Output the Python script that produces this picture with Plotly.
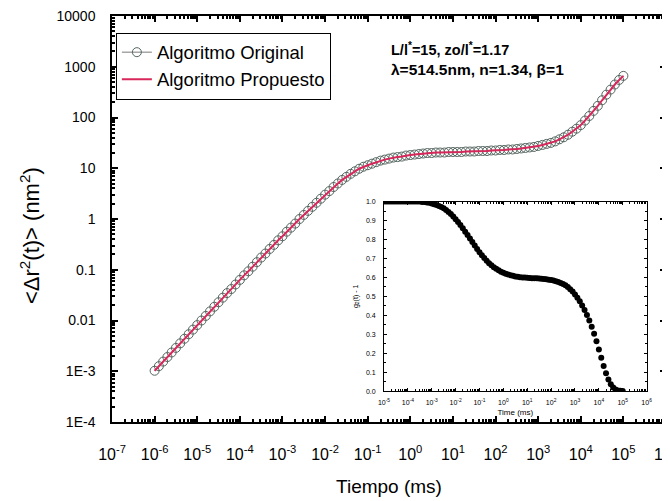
import plotly.graph_objects as go

# ---------------- data ----------------
log_time = [-6.0, -5.9, -5.8, -5.7, -5.6, -5.5, -5.4, -5.3, -5.2, -5.1,
            -5.0, -4.9, -4.8, -4.7, -4.6, -4.5, -4.4, -4.3, -4.2, -4.1,
            -4.0, -3.9, -3.8, -3.7, -3.6, -3.5, -3.4, -3.3, -3.2, -3.1,
            -3.0, -2.9, -2.8, -2.7, -2.6, -2.5, -2.4, -2.3, -2.2, -2.1,
            -2.0, -1.9, -1.8, -1.7, -1.6, -1.5, -1.4, -1.3, -1.2, -1.1,
            -1.0, -0.9, -0.8, -0.7, -0.6, -0.5, -0.4, -0.3, -0.2, -0.1,
            0.0, 0.1, 0.2, 0.3, 0.4, 0.5, 0.6, 0.7, 0.8, 0.9,
            1.0, 1.1, 1.2, 1.3, 1.4, 1.5, 1.6, 1.7, 1.8, 1.9,
            2.0, 2.1, 2.2, 2.3, 2.4, 2.5, 2.6, 2.7, 2.8, 2.9,
            3.0, 3.1, 3.2, 3.3, 3.4, 3.5, 3.6, 3.7, 3.8, 3.9,
            4.0, 4.1, 4.2, 4.3, 4.4, 4.5, 4.6, 4.7, 4.8, 4.9, 5.0]

log_msd = [-2.99, -2.90, -2.81, -2.72, -2.63, -2.54, -2.45, -2.36, -2.27, -2.18,
           -2.09, -2.00, -1.91, -1.82, -1.73, -1.64, -1.55, -1.46, -1.38, -1.29,
           -1.20, -1.11, -1.03, -0.94, -0.85, -0.76, -0.68, -0.59, -0.51, -0.42,
           -0.34, -0.25, -0.17, -0.09, 0.00, 0.08, 0.16, 0.24, 0.32, 0.40,
           0.48, 0.55, 0.63, 0.70, 0.77, 0.83, 0.89, 0.94, 0.99, 1.03,
           1.06, 1.09, 1.12, 1.15, 1.17, 1.19, 1.21, 1.22, 1.23, 1.25,
           1.26, 1.27, 1.28, 1.29, 1.30, 1.30, 1.31, 1.31, 1.31, 1.32,
           1.32, 1.32, 1.32, 1.33, 1.33, 1.33, 1.34, 1.34, 1.34, 1.35,
           1.35, 1.36, 1.36, 1.37, 1.37, 1.38, 1.39, 1.40, 1.41, 1.42,
           1.44, 1.46, 1.48, 1.50, 1.53, 1.57, 1.61, 1.66, 1.72, 1.78,
           1.85, 1.94, 2.03, 2.13, 2.23, 2.34, 2.45, 2.55, 2.65, 2.74, 2.82]

inset_log_time = [-5.0, -4.9, -4.8, -4.7, -4.6, -4.5, -4.4, -4.3, -4.2, -4.1,
                  -4.0, -3.9, -3.8, -3.7, -3.6, -3.5, -3.4, -3.3, -3.2, -3.1,
                  -3.0, -2.9, -2.8, -2.7, -2.6, -2.5, -2.4, -2.3, -2.2, -2.1,
                  -2.0, -1.9, -1.8, -1.7, -1.6, -1.5, -1.4, -1.3, -1.2, -1.1,
                  -1.0, -0.9, -0.8, -0.7, -0.6, -0.5, -0.4, -0.3, -0.2, -0.1,
                  0.0, 0.1, 0.2, 0.3, 0.4, 0.5, 0.6, 0.7, 0.8, 0.9,
                  1.0, 1.1, 1.2, 1.3, 1.4, 1.5, 1.6, 1.7, 1.8, 1.9,
                  2.0, 2.1, 2.2, 2.3, 2.4, 2.5, 2.6, 2.7, 2.8, 2.9,
                  3.0, 3.1, 3.2, 3.3, 3.4, 3.5, 3.6, 3.7, 3.8, 3.9,
                  4.0, 4.1, 4.2, 4.3, 4.4, 4.5, 4.6, 4.7, 4.8, 4.9, 5.0]

inset_g = [1.000, 1.000, 1.000, 1.000, 1.000, 1.000, 1.000, 1.000, 1.000, 1.000,
           1.000, 1.000, 1.000, 1.000, 1.000, 1.000, 0.998, 0.997, 0.995, 0.993,
           0.990, 0.986, 0.982, 0.977, 0.971, 0.964, 0.955, 0.945, 0.934, 0.921,
           0.907, 0.892, 0.876, 0.859, 0.841, 0.823, 0.805, 0.786, 0.768, 0.750,
           0.733, 0.717, 0.702, 0.688, 0.675, 0.664, 0.654, 0.645, 0.637, 0.630,
           0.624, 0.619, 0.615, 0.611, 0.608, 0.605, 0.603, 0.601, 0.600, 0.599,
           0.598, 0.597, 0.596, 0.596, 0.595, 0.594, 0.593, 0.592, 0.590, 0.588,
           0.586, 0.583, 0.580, 0.576, 0.571, 0.565, 0.558, 0.549, 0.538, 0.525,
           0.510, 0.493, 0.474, 0.452, 0.428, 0.402, 0.373, 0.340, 0.303, 0.263,
           0.220, 0.176, 0.133, 0.094, 0.061, 0.036, 0.019, 0.009, 0.004, 0.002, 0.001]

main_x_tick_exps = [-7, -6, -5, -4, -3, -2, -1, 0, 1, 2, 3, 4, 5, 6]
main_x_tick_text = ["10<sup>-7</sup>", "10<sup>-6</sup>", "10<sup>-5</sup>", "10<sup>-4</sup>",
                    "10<sup>-3</sup>", "10<sup>-2</sup>", "10<sup>-1</sup>", "10<sup>0</sup>",
                    "10<sup>1</sup>", "10<sup>2</sup>", "10<sup>3</sup>", "10<sup>4</sup>",
                    "10<sup>5</sup>", "10<sup>6</sup>"]
main_y_tick_exps = [-4, -3, -2, -1, 0, 1, 2, 3, 4]
main_y_tick_text = ["1E-4", "1E-3", "0.01", "0.1", "1", "10", "100", "1000", "10000"]
inset_x_tick_exps = [-5, -4, -3, -2, -1, 0, 1, 2, 3, 4, 5, 6]
inset_x_tick_text = ["10<sup>-5</sup>", "10<sup>-4</sup>", "10<sup>-3</sup>", "10<sup>-2</sup>",
                     "10<sup>-1</sup>", "10<sup>0</sup>", "10<sup>1</sup>", "10<sup>2</sup>",
                     "10<sup>3</sup>", "10<sup>4</sup>", "10<sup>5</sup>", "10<sup>6</sup>"]
inset_y_ticks = [0.0, 0.1, 0.2, 0.3, 0.4, 0.5, 0.6, 0.7, 0.8, 0.9, 1.0]

series_names = ["Algoritmo Original", "Algoritmo Propuesto"]
y_title = "&lt;Δr<sup>2</sup>(t)&gt; (nm<sup>2</sup>)"
# ---------------------------------------------------------------

time = [10 ** v for v in log_time]
msd = [10 ** v for v in log_msd]
inset_time = [10 ** v for v in inset_log_time]

def minor_logs(lo, hi):
    vals = []
    for d in range(lo, hi):
        for m in range(2, 10):
            vals.append(m * 10 ** d)
    return vals

FONT = "Arial, 'Liberation Sans', Helvetica, sans-serif"

fig = go.Figure()
fig.add_trace(go.Scatter(
    x=time, y=msd, mode="lines+markers", name=series_names[0],
    line=dict(color="#7a7a7a", width=1),
    marker=dict(symbol="circle-open", size=9, color="#55655f", line=dict(width=1)),
))
fig.add_trace(go.Scatter(
    x=time, y=msd, mode="lines", name=series_names[1],
    line=dict(color="#d8275a", width=2),
))
fig.add_trace(go.Scatter(
    x=inset_time, y=inset_g, mode="markers", showlegend=False,
    marker=dict(symbol="circle", size=6, color="black"),
    xaxis="x2", yaxis="y2",
))

axis_common = dict(showline=True, linecolor="black", mirror="ticks",
                   ticks="inside", tickcolor="black", showgrid=False, zeroline=False)

fig.update_layout(
    width=670, height=501,
    margin=dict(l=104, r=0, t=7, b=87),
    paper_bgcolor="white", plot_bgcolor="white",
    font=dict(family=FONT, color="black"),
    xaxis=dict(type="log", range=[-7, 6], domain=[0, 1],
               tickvals=[10 ** e for e in main_x_tick_exps], ticktext=main_x_tick_text,
               ticklen=6, linewidth=1.5, tickwidth=1.5,
               tickfont=dict(size=16), ticklabelstandoff=17, ticklabeloverflow="allow",
               minor=dict(tickvals=minor_logs(-7, 6), ticks="inside", ticklen=3, tickcolor="black"),
               title=dict(text="Tiempo (ms)", font=dict(size=19), standoff=18),
               **axis_common),
    yaxis=dict(type="log", range=[-4, 4], domain=[0, 1],
               tickvals=[10 ** e for e in main_y_tick_exps], ticktext=main_y_tick_text,
               ticklen=6, linewidth=1.5, tickwidth=1.5,
               tickfont=dict(size=14), ticklabelstandoff=12, ticklabeloverflow="allow",
               minor=dict(tickvals=minor_logs(-4, 4), ticks="inside", ticklen=3, tickcolor="black"),
               **axis_common),
    xaxis2=dict(type="log", range=[-5, 6], domain=[0.491, 0.965], anchor="y2",
                tickvals=[10 ** e for e in inset_x_tick_exps], ticktext=inset_x_tick_text,
                ticklen=3, linewidth=1, tickwidth=1,
                tickfont=dict(size=7), ticklabelstandoff=4, ticklabeloverflow="allow",
                minor=dict(tickvals=minor_logs(-5, 6), ticks="inside", ticklen=2, tickcolor="black"),
                title=dict(text="Time (ms)", font=dict(size=8), standoff=4),
                **axis_common),
    yaxis2=dict(range=[0, 1.0], domain=[0.076, 0.543], anchor="x2",
                tickvals=inset_y_ticks, tickformat=".1f",
                ticklen=3, linewidth=1, tickwidth=1,
                tickfont=dict(size=7), ticklabelstandoff=6,
                minor=dict(dtick=0.05, ticks="inside", ticklen=2, tickcolor="black"),
                title=dict(text="g<sub>2</sub>(t) - 1", font=dict(size=7), standoff=6),
                **axis_common),
    legend=dict(x=0.007, y=0.959, xanchor="left", yanchor="top",
                bgcolor="white", bordercolor="black", borderwidth=1,
                font=dict(size=18.5), tracegroupgap=0, itemwidth=30),
    showlegend=True,
)

# y-axis title (placed slightly below centre, as in the original)
fig.add_annotation(xref="paper", yref="paper", x=-0.149, y=0.459, xanchor="center", yanchor="middle",
                   text=y_title, textangle=-90, showarrow=False, font=dict(size=22))

fig.add_annotation(xref="paper", yref="paper", x=0.5, y=0.919, xanchor="left", yanchor="middle",
                   text="<b>L/l<sup>*</sup>=15, zo/l<sup>*</sup>=1.17</b>", showarrow=False,
                   font=dict(size=14.5))
fig.add_annotation(xref="paper", yref="paper", x=0.5, y=0.869, xanchor="left", yanchor="middle",
                   text="<b>λ=514.5nm, n=1.34, β=1</b>", showarrow=False,
                   font=dict(size=15.5))

fig.write_html("out.html")
